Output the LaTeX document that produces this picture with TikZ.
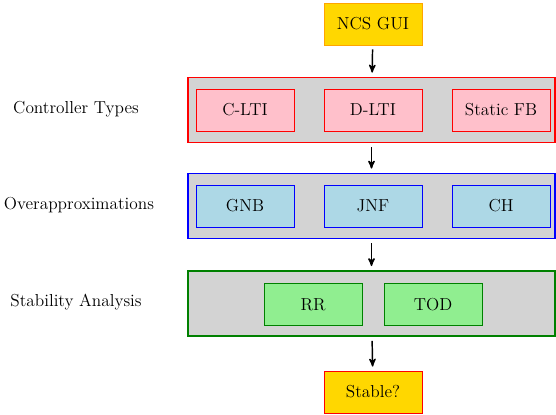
\documentclass[tikz,border=0pt]{standalone}
\usepackage{tikz}
\usetikzlibrary{arrows}
\definecolor{boxgold}{HTML}{FFD700}
\definecolor{boxorange}{HTML}{FFA500}
\definecolor{boxpink}{HTML}{FFC0CB}
\definecolor{boxblue}{HTML}{ADD8E6}
\definecolor{boxgreen}{HTML}{90EE90}
\definecolor{layergray}{HTML}{D3D3D3}
\definecolor{layerred}{HTML}{FF0000}
\definecolor{layerblue}{HTML}{0000FF}
\definecolor{darkgreen}{HTML}{008000}

\begin{document}
\begin{tikzpicture}[x=0.75pt,y=-0.75pt,>=stealth',
  box/.style={rectangle,semithick,draw=#1,minimum width=73.5pt,minimum height=31.5pt,inner sep=0pt,font=\fontsize{13}{15}\selectfont},
  layer/.style={rectangle,line width=1.1pt,draw=#1,fill=layergray,minimum width=275pt,minimum height=49pt},
  side label/.style={font=\fontsize{13}{15}\selectfont}]
  \useasboundingbox (0,0) rectangle (556,414);
  % main column
  \node[box=boxorange,fill=boxgold] (gui) at (373,24) {NCS GUI};
  \node[layer=layerred] (ctrl) at (371.5,110) {};
  \node[layer=layerblue] (over) at (371.5,206) {};
  \node[layer=darkgreen] (stab) at (371.5,303.5) {};
  \node[box=red,fill=boxgold] (stable) at (373,392) {Stable?};
  % controller types
  \node[box=red,fill=boxpink] (clti) at (245,110) {C-LTI};
  \node[box=red,fill=boxpink] (dlti) at (373,110) {D-LTI};
  \node[box=red,fill=boxpink] (sfb) at (501,110) {Static FB};
  % overapproximations
  \node[box=blue,fill=boxblue] (gnb) at (245,206) {GNB};
  \node[box=blue,fill=boxblue] (jnf) at (373,206) {JNF};
  \node[box=blue,fill=boxblue] (ch) at (501,206) {CH};
  % stability analysis
  \node[box=darkgreen,fill=boxgreen] (rr) at (313,304.5) {RR};
  \node[box=darkgreen,fill=boxgreen] (tod) at (433,304.5) {TOD};
  % labels on the left
  \node[side label] (lctrl) at (76,109) {Controller Types};
  \node[side label] (lover) at (79,205) {Overapproximations};
  \node[side label] (lstab) at (76,302) {Stability Analysis};
  \path[->,line width=1.1pt,shorten >=3pt,shorten <=3pt]
    (gui) edge (ctrl)
    (ctrl) edge (over)
    (over) edge (stab)
    (stab) edge (stable);
\end{tikzpicture}
\end{document}
